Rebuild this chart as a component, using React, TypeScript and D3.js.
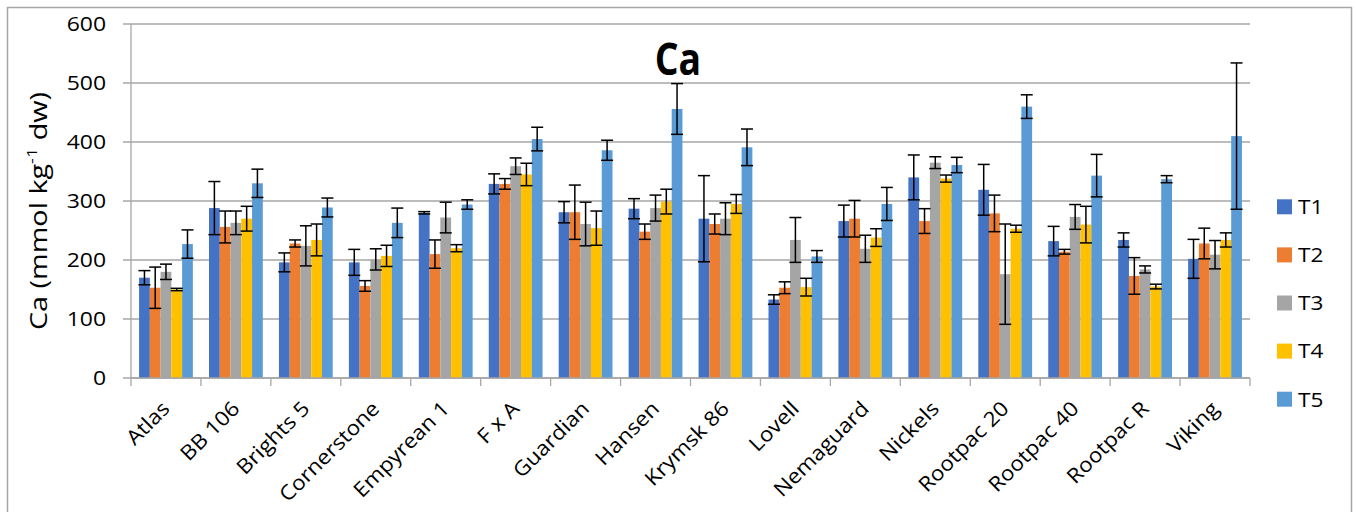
import React from 'react';
import * as d3 from 'd3';

const categories = ['Atlas', 'BB 106', 'Brights 5', 'Cornerstone', 'Empyrean 1', 'F x A', 'Guardian', 'Hansen',
  'Krymsk 86', 'Lovell', 'Nemaguard', 'Nickels', 'Rootpac 20', 'Rootpac 40', 'Rootpac R', 'Viking'];
const seriesNames = ['T1', 'T2', 'T3', 'T4', 'T5'];
const t1 = [170, 288, 196, 196, 280, 329, 281, 287, 270, 133, 266, 340, 319, 232, 234, 202];
const t1Err = [12, 45, 16, 22, 2, 17, 18, 17, 73, 8, 27, 38, 43, 25, 12, 33];
const t2 = [153, 256, 228, 156, 210, 329, 281, 248, 261, 153, 270, 266, 279, 214, 173, 228];
const t2Err = [35, 27, 6, 9, 24, 9, 46, 13, 17, 10, 31, 21, 31, 4, 31, 26];
const t3 = [180, 263, 224, 201, 272, 359, 261, 288, 270, 234, 219, 365, 176, 273, 184, 209];
const t3Err = [13, 20, 34, 18, 26, 14, 37, 22, 27, 38, 23, 10, 85, 21, 6, 24];
const t4 = [150, 270, 234, 207, 220, 345, 254, 299, 295, 154, 238, 338, 253, 260, 155, 234];
const t4Err = [2, 21, 27, 18, 6, 19, 29, 21, 16, 15, 15, 6, 6, 31, 4, 12];
const t5 = [227, 330, 289, 263, 294, 405, 386, 456, 391, 206, 295, 361, 460, 343, 337, 410];
const t5Err = [24, 24, 16, 25, 8, 20, 17, 43, 31, 10, 28, 13, 20, 36, 6, 124];
const yTicks = [0, 100, 200, 300, 400, 500, 600];
const colors = ['#4472C4', '#ED7D31', '#A5A5A5', '#FFC000', '#5B9BD5'];

const values = [t1, t2, t3, t4, t5];
const errors = [t1Err, t2Err, t3Err, t4Err, t5Err];

const FONT = '"Open Sans", "Noto Sans", sans-serif';

export default function App() {
  const width = 1356;
  const height = 512;
  const margin = { left: 131, right: 106, top: 24, bottom: 134 };

  // Excel-like gap width of 150%
  const pad = 1.5 / 6.5;
  const x = d3.scaleBand<string>()
    .domain(categories)
    .range([margin.left, width - margin.right])
    .paddingInner(pad)
    .paddingOuter(pad / 2);
  const xs = d3.scaleBand<string>().domain(seriesNames).range([0, x.bandwidth()]);
  const y = d3.scaleLinear().domain([0, 600]).range([height - margin.bottom, margin.top]);

  const step = x.step();
  const plotLeft = margin.left;
  const plotRight = width - margin.right;
  const base = y(0);

  return (
    <svg width={width} height={height} style={{ position: 'absolute', left: 0, top: 0, background: '#fff' }}>
      <rect x={7.5} y={7.5} width={1344} height={520} fill="#fff" stroke="#a6a6a6" strokeWidth={1.5} />

      {/* gridlines */}
      {yTicks.map(t => (
        <line key={'g' + t} x1={plotLeft - 8} x2={plotRight} y1={y(t)} y2={y(t)} stroke="#a6a6a6" strokeWidth={1.3} />
      ))}
      <line x1={plotLeft} x2={plotLeft} y1={y(600)} y2={base} stroke="#a6a6a6" strokeWidth={1.3} />

      {/* y tick labels */}
      {yTicks.map(t => (
        <text key={'yl' + t} transform={`translate(106,${y(t) + 7.3}) scale(1.12,1)`} textAnchor="end"
          fontFamily={FONT} fontSize={20.5} fill="#000">{t}</text>
      ))}

      {/* y axis title */}
      <text transform="translate(47,211) rotate(-90) scale(1.2,1)" textAnchor="middle" fontFamily={FONT} fontSize={24} fill="#000">
        Ca (mmol kg<tspan fontSize={15} dy={-10}>-1</tspan><tspan dy={10}> dw)</tspan>
      </text>

      {/* title */}
      <text transform="translate(678,75) scale(0.85,1)" textAnchor="middle" fontFamily={FONT} fontWeight="bold" fontSize={44} fill="#000">Ca</text>

      {/* bars */}
      {seriesNames.map((s, si) => (
        <g key={s}>
          {categories.map((c, ci) => {
            const v = values[si][ci];
            const bx = (x(c) as number) + (xs(s) as number);
            return <rect key={c} x={bx} y={y(v)} width={xs.bandwidth()} height={base - y(v)} fill={colors[si]} />;
          })}
        </g>
      ))}

      {/* error bars */}
      {seriesNames.map((s, si) => (
        <g key={'e' + s} stroke="#000" strokeWidth={1.5}>
          {categories.map((c, ci) => {
            const v = values[si][ci];
            const e = errors[si][ci];
            const cx = (x(c) as number) + (xs(s) as number) + xs.bandwidth() / 2;
            const hw = 6;
            return (
              <g key={c}>
                <line x1={cx} x2={cx} y1={y(v + e)} y2={y(v - e)} />
                <line x1={cx - hw} x2={cx + hw} y1={y(v + e)} y2={y(v + e)} />
                <line x1={cx - hw} x2={cx + hw} y1={y(v - e)} y2={y(v - e)} />
              </g>
            );
          })}
        </g>
      ))}

      {/* x axis */}
      <line x1={plotLeft} x2={plotRight} y1={base} y2={base} stroke="#a6a6a6" strokeWidth={1.3} />
      {d3.range(categories.length + 1).map(i => (
        <line key={'xt' + i} x1={plotLeft + i * step} x2={plotLeft + i * step} y1={base} y2={base + 8} stroke="#a6a6a6" strokeWidth={1.3} />
      ))}
      {categories.map(c => {
        const cx = (x(c) as number) + x.bandwidth() / 2;
        return (
          <text key={'xl' + c} transform={`translate(${cx + 5},410) rotate(-45) scale(1.1,1)`} textAnchor="end"
            fontFamily={FONT} fontSize={20.5} fill="#000">{c}</text>
        );
      })}

      {/* legend */}
      {seriesNames.map((s, i) => {
        const cy = 206.8 + i * 48.1;
        return (
          <g key={'lg' + s}>
            <rect x={1277} y={cy - 7.5} width={15} height={15} fill={colors[i]} />
            <text transform={`translate(1298,${cy + 7.3}) scale(1.1,1)`} fontFamily={FONT} fontSize={20.5} fill="#000">{s}</text>
          </g>
        );
      })}
    </svg>
  );
}
